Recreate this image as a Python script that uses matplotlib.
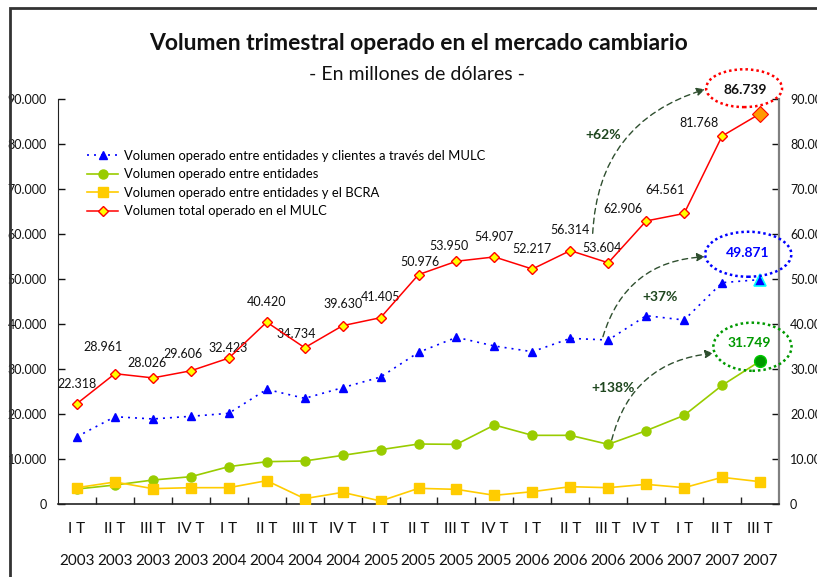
import matplotlib
matplotlib.use('Agg')
import matplotlib.pyplot as plt
from matplotlib.patches import Ellipse, Rectangle
from matplotlib.ticker import FuncFormatter, MultipleLocator
import numpy as np

plt.rcParams['font.family'] = ['Lato', 'DejaVu Sans']

# quarters (roman numeral + year)
quarters = ['I T', 'II T', 'III T', 'IV T'] * 4 + ['I T', 'II T', 'III T']
years = ['2003'] * 4 + ['2004'] * 4 + ['2005'] * 4 + ['2006'] * 4 + ['2007'] * 3

# millions of dollars
clientes = [14960, 19400, 18900, 19490, 20150, 25480, 23480, 25850, 28220, 33700,
            37040, 35110, 33850, 36810, 36440, 41850, 40890, 49190, 49871]
entidades = [3330, 4220, 5330, 6070, 8300, 9410, 9560, 10810, 12070, 13330,
             13260, 17560, 15260, 15260, 13260, 16300, 19700, 26370, 31749]
bcra = [3630, 4890, 3410, 3630, 3630, 5190, 1190, 2590, 670, 3480,
        3260, 1930, 2740, 3850, 3630, 4370, 3630, 5930, 4960]
total = [22318, 28961, 28026, 29606, 32423, 40420, 34734, 39630, 41405, 50976,
         53950, 54907, 52217, 56314, 53604, 62906, 64561, 81768, 86739]

names = ['Volumen operado entre entidades y clientes a través del MULC',
         'Volumen operado entre entidades',
         'Volumen operado entre entidades y el BCRA',
         'Volumen total operado en el MULC']

# label offsets for the total series (pixels)
lbl_off = [(0, 20), (-12, 27), (-6, 15), (-8, 17), (-1, 10), (0, 20), (-8, 14),
           (0, 22), (0, 21), (1, 13), (-7, 15), (0, 20), (0, 20), (0, 21),
           (-6, 15), (-23, 12), (-19, 23), (-23, 13)]


def fmt(v):
    return f'{int(round(v)):,}'.replace(',', '.')


fig = plt.figure(figsize=(8.17, 5.77), dpi=100)
ax = fig.add_axes([0.071, 0.1265, 0.8825, 0.7019])
x = np.arange(len(total))

ax.plot(x, clientes, color='#0000FF', ls=(0, (1.2, 3)), lw=1.2, marker='^', ms=6,
        mfc='#0000FF', mec='#0000FF', label=names[0], zorder=4)
ax.plot(x, entidades, color='#99CC00', lw=1.2, marker='o', ms=6.5,
        mfc='#99CC00', mec='#99CC00', label=names[1], zorder=4)
ax.plot(x, bcra, color='#FFCC00', lw=1.2, marker='s', ms=6.5,
        mfc='#FFCC00', mec='#FFCC00', label=names[2], zorder=4)
ax.plot(x, total, color='#FF0000', lw=1.1, marker='D', ms=5.5,
        mfc='#FFFF00', mec='#FF0000', mew=1.0, label=names[3], zorder=5)

# highlighted last points
ax.plot(x[-1], total[-1], marker='D', ms=8, mfc='#FF9900', mec='#FF0000', mew=0.8, zorder=6)
ax.plot(x[-1], clientes[-1], marker='^', ms=8, mfc='#0000FF', mec='#00FFFF', mew=1.2, zorder=6)
ax.plot(x[-1], entidades[-1], marker='o', ms=8.5, mfc='#009900', mec='#00CC00', mew=1.0, zorder=6)

# value labels for the total
for i in range(len(total) - 1):
    ax.annotate(fmt(total[i]), (x[i], total[i]), xytext=lbl_off[i],
                textcoords='offset pixels', ha='center', va='center',
                fontsize=9, color='#111111')

ax.set_xlim(-0.5, len(total) - 0.5)
ax.set_ylim(0, 90000)
ax.yaxis.set_major_locator(MultipleLocator(10000))
ax.yaxis.set_major_formatter(FuncFormatter(lambda v, p: fmt(v)))

ax.set_xticks(x)
ax.set_xticklabels([q + '\n' + y for q, y in zip(quarters, years)],
                   fontsize=11, linespacing=2.6)
ax.set_xticks(np.arange(0.5, len(total) - 1, 1), minor=True)
ax.tick_params(axis='x', which='major', length=0, pad=13, colors='#111111')
ax.tick_params(axis='x', which='minor', direction='in', length=5, width=1, color='#222222')
ax.tick_params(axis='y', which='major', direction='in', length=5, width=1,
               right=True, labelright=True, labelsize=9, pad=8, colors='#111111')

ax.spines['top'].set_visible(False)
ax.spines['left'].set_color('#222222')
ax.spines['left'].set_linewidth(0.8)
ax.spines['right'].set_color('#808080')
ax.spines['right'].set_linewidth(1.6)
ax.spines['bottom'].set_color('#222222')
ax.spines['bottom'].set_linewidth(1.2)

ax.legend(loc='upper left', bbox_to_anchor=(0.04, 0.875), frameon=False,
          fontsize=9.4, handlelength=2.4, handletextpad=0.45, labelspacing=0.5,
          borderpad=0, borderaxespad=0)

# ellipses with the last values
green_dark = '#2F4F2F'
ax.add_patch(Ellipse((17.58, 92400), 2.0, 8400, fill=False, ec='#FF0000',
                     ls=(0, (1, 1.2)), lw=1.8, clip_on=False, zorder=7))
ax.text(17.62, 91900, fmt(total[-1]), ha='center', va='center', fontsize=10,
        fontweight='bold', color='#111111', clip_on=False)
ax.add_patch(Ellipse((17.69, 55500), 2.27, 10000, fill=False, ec='#0000FF',
                     ls=(0, (1, 1.2)), lw=1.8, clip_on=False, zorder=7))
ax.text(17.68, 55800, fmt(clientes[-1]), ha='center', va='center', fontsize=10,
        fontweight='bold', color='#0000FF')
ax.add_patch(Ellipse((17.8, 34950), 2.06, 10700, fill=False, ec='#009900',
                     ls=(0, (1, 1.2)), lw=1.8, clip_on=False, zorder=7))
ax.text(17.71, 35850, fmt(entidades[-1]), ha='center', va='center', fontsize=10,
        fontweight='bold', color='#009900')

# growth arrows
arrows = [((13.59, 60150), (16.55, 92150), '+62%', (13.87, 82000)),
          ((13.86, 37180), (16.55, 54950), '+37%', (15.36, 46070)),
          ((14.09, 14220), (16.77, 33490), '+138%', (14.13, 25840))]
for start, end, txt, pos in arrows:
    ax.annotate('', xy=end, xytext=start, annotation_clip=False,
                arrowprops=dict(arrowstyle='-|>', color=green_dark, lw=1.0,
                                ls=(0, (4, 3)), mutation_scale=12,
                                shrinkA=0, shrinkB=0,
                                connectionstyle='arc3,rad=-0.35'))
    ax.text(pos[0], pos[1], txt, ha='center', va='center', fontsize=10,
            fontweight='bold', color='#1E461E')

fig.text(0.512, 1 - 44 / 577, 'Volumen trimestral operado en el mercado cambiario',
         ha='center', va='center', fontsize=16.5, fontweight='bold', color='#111111')
fig.text(0.51, 1 - 75 / 577, '- En millones de dólares -', ha='center', va='center',
         fontsize=14, color='#111111')

# outer frame (cut at right and bottom)
fig.patches.append(Rectangle((10 / 817, -0.05), 1.1, 1.05 - 8 / 577,
                             transform=fig.transFigure, fill=False,
                             ec='#333333', lw=2))

fig.savefig('out.png', dpi=100)
